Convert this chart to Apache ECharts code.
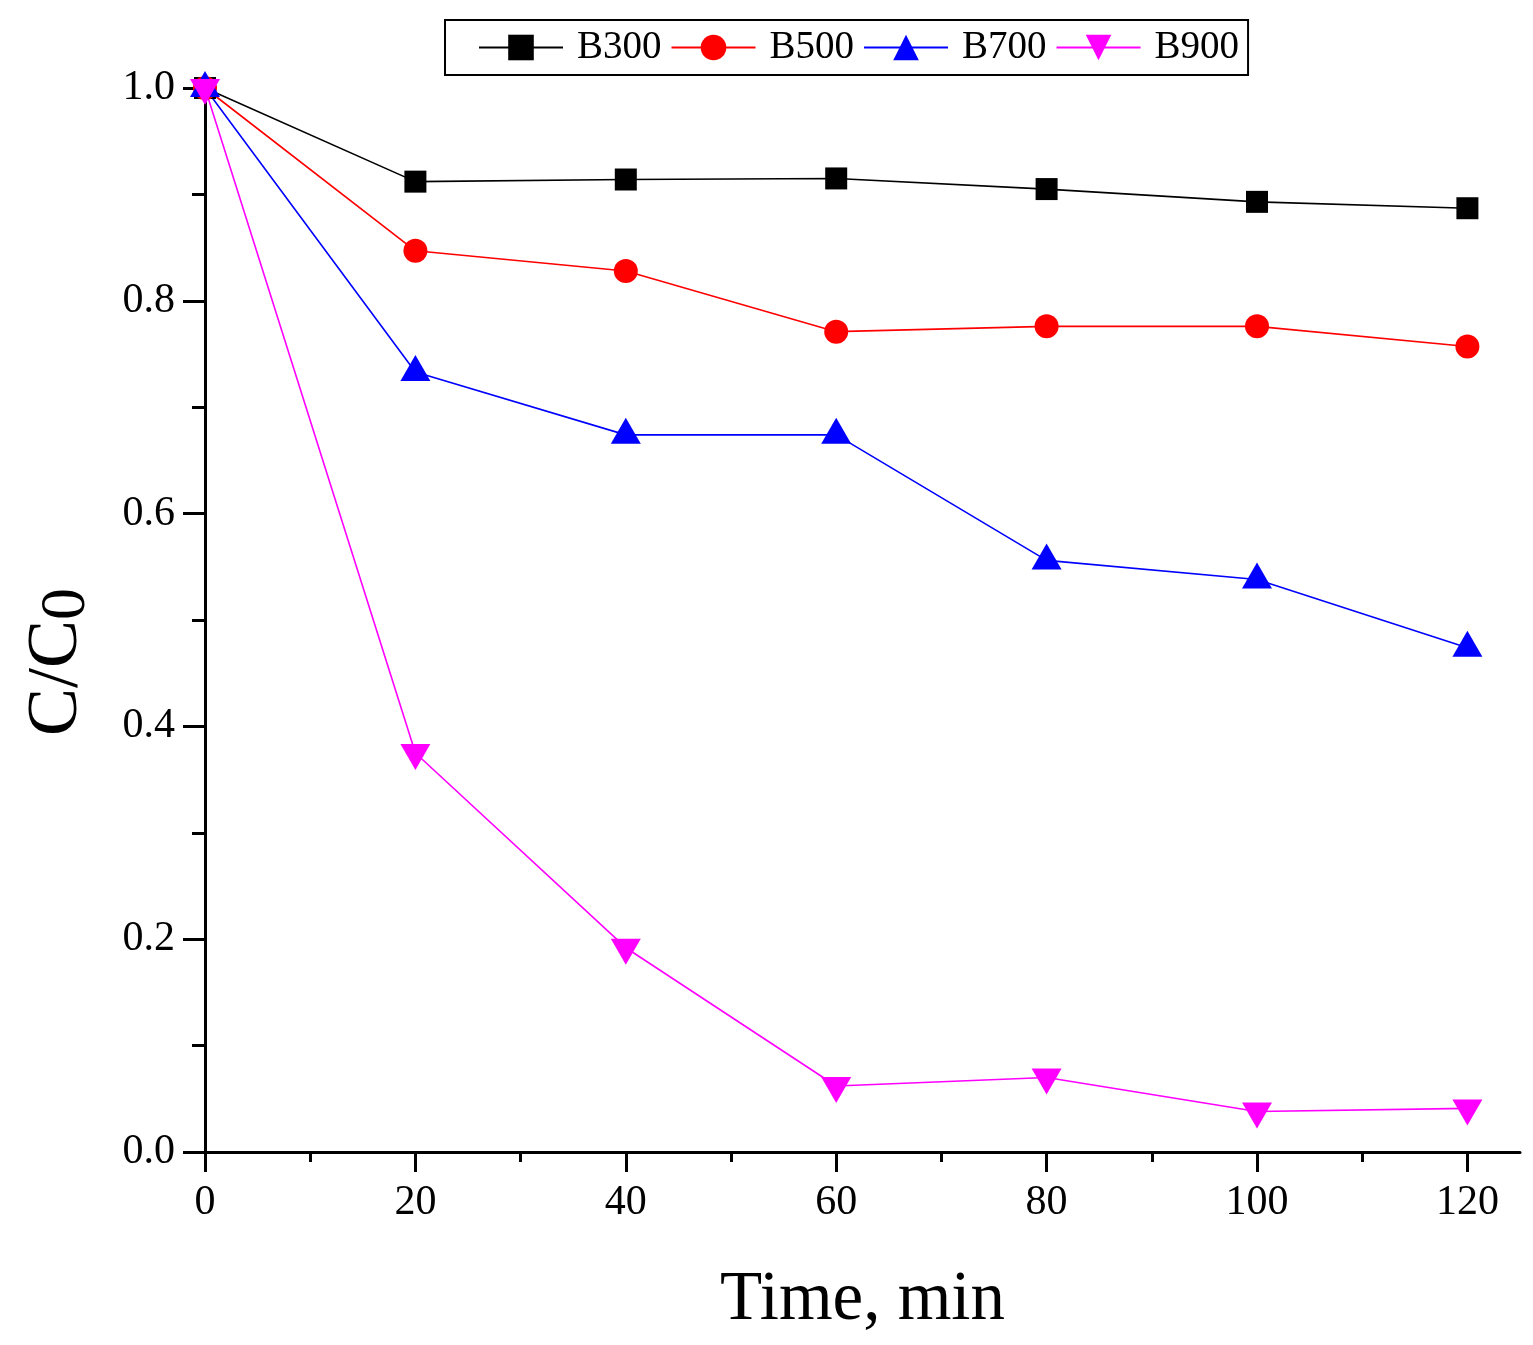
<!DOCTYPE html>
<html lang="en">
<head>
  <meta charset="UTF-8">
  <title>C/C0 vs time</title>
  <script src="https://cdn.jsdelivr.net/npm/echarts@6/dist/echarts.min.js"></script>
  <style>
    html, body { margin: 0; padding: 0; background: #fff; }
  </style>
</head>
<body>
  <div id="main" style="width:1533px; height:1345px;"></div>
  <script>
    // data
    var times = [0, 20, 40, 60, 80, 100, 120];
    var b300 = [1.0, 0.912, 0.914, 0.915, 0.905, 0.893, 0.887];
    var b500 = [1.0, 0.847, 0.828, 0.771, 0.776, 0.776, 0.757];
    var b700 = [1.0, 0.733, 0.674, 0.674, 0.556, 0.538, 0.474];
    var b900 = [1.0, 0.375, 0.192, 0.062, 0.070, 0.038, 0.041];

    var xMajor = [0, 20, 40, 60, 80, 100, 120];
    var xMinor = [10, 30, 50, 70, 90, 110];

    var font = "'Times New Roman', 'Liberation Serif', serif";

    function pairs(ys) {
      var out = [];
      for (var i = 0; i < times.length; i++) out.push([times[i], ys[i]]);
      return out;
    }

    var chart = echarts.init(document.getElementById('main'));

    function line(name, ys, color, symbol, size, extra) {
      var s = {
        name: name,
        type: 'line',
        data: pairs(ys),
        symbol: symbol,
        symbolSize: size,
        showAllSymbol: true,
        lineStyle: { color: color, width: 1.6 },
        itemStyle: { color: color },
        emphasis: { disabled: true },
        animation: false
      };
      for (var k in extra) s[k] = extra[k];
      return s;
    }

    var option = {
      backgroundColor: '#fff',
      textStyle: { fontFamily: font },
      grid: { left: 205, right: 13, top: 88, bottom: 193, containLabel: false },
      legend: {
        left: 445,
        top: 20,
        itemWidth: 84,
        itemHeight: 32,
        itemGap: 9,
        padding: [8, 9, 8, 33],
        borderColor: '#000',
        borderWidth: 2,
        textStyle: { fontFamily: font, fontSize: 39, color: '#000', padding: [0, 0, 0, 9] },
        data: ['B300', 'B500', 'B700', 'B900']
      },
      xAxis: [{
        type: 'value',
        min: 0,
        max: 125,
        interval: 20,
        name: 'Time, min',
        nameLocation: 'middle',
        nameGap: 114,
        nameTextStyle: { fontFamily: font, fontSize: 69, color: '#000' },
        axisLine: { lineStyle: { color: '#000', width: 3 } },
        axisTick: { show: true, inside: false, length: 20, customValues: xMajor, lineStyle: { color: '#000', width: 3 } },
        axisLabel: { customValues: xMajor, margin: 30, fontFamily: font, fontSize: 42, color: '#000' },
        splitLine: { show: false }
      }, {
        type: 'value',
        min: 0,
        max: 125,
        position: 'bottom',
        axisLine: { show: false },
        axisTick: { show: true, inside: false, length: 10, customValues: xMinor, lineStyle: { color: '#000', width: 3 } },
        axisLabel: { show: false },
        splitLine: { show: false }
      }],
      yAxis: {
        type: 'value',
        min: 0,
        max: 1.0,
        interval: 0.2,
        name: '{c|C/C}{s|0}',
        nameLocation: 'middle',
        nameGap: 106,
        nameRotate: 90,
        nameTextStyle: {
          padding: [0, 84, 0, 0],
          rich: {
            c: { fontFamily: font, fontSize: 72, color: '#000', lineHeight: 84, verticalAlign: 'middle' },
            s: { fontFamily: font, fontSize: 64, color: '#000', lineHeight: 84, verticalAlign: 'bottom' }
          }
        },
        axisLine: { show: true, lineStyle: { color: '#000', width: 3 } },
        axisTick: { show: true, inside: false, length: 22, lineStyle: { color: '#000', width: 3 } },
        minorTick: { show: true, splitNumber: 2, length: 13, lineStyle: { color: '#000', width: 3 } },
        axisLabel: {
          margin: 30, fontFamily: font, fontSize: 42, color: '#000',
          formatter: function (v) { return v.toFixed(1); }
        },
        splitLine: { show: false }
      },
      series: [
        line('B300', b300, '#000000', 'rect', 22, {}),
        line('B500', b500, '#ff0000', 'circle', 24, {}),
        line('B700', b700, '#0000ff', 'triangle', [30, 26], { symbolOffset: [0, -4] }),
        line('B900', b900, '#ff00ff', 'triangle', [30, 26], { symbolRotate: 180, symbolOffset: [0, 4] })
      ]
    };

    chart.setOption(option);
  </script>
</body>
</html>
